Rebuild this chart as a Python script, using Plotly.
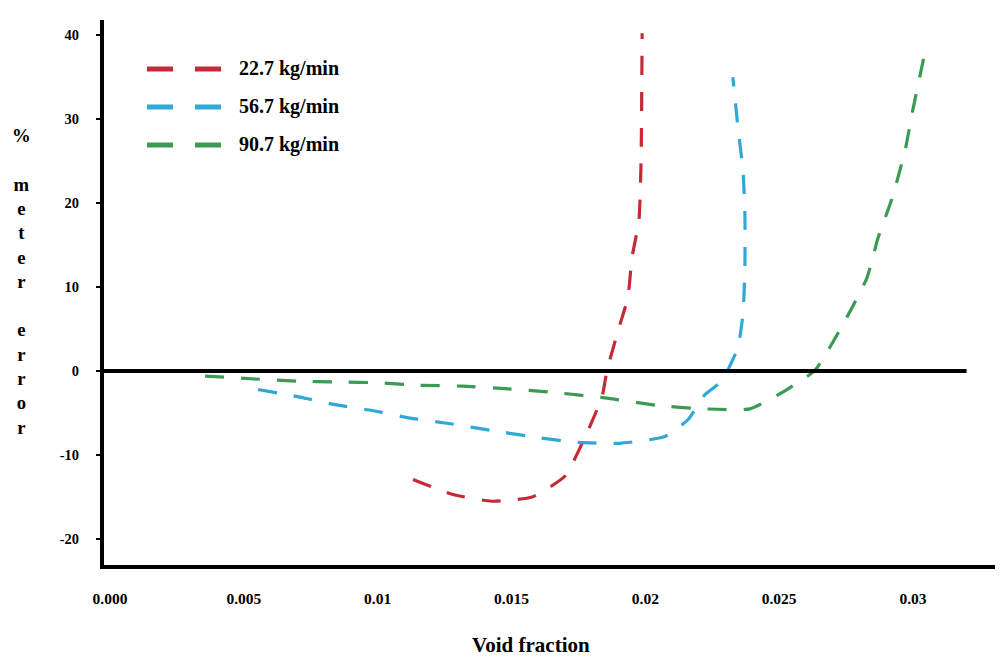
import plotly.graph_objects as go

# ---------------- data ----------------
series_names = ["22.7 kg/min", "56.7 kg/min", "90.7 kg/min"]

x_red = [0.01132, 0.01281, 0.01427, 0.01577, 0.01700, 0.01767, 0.01838, 0.01857,
         0.01902, 0.01935, 0.01950, 0.01976, 0.01984, 0.01988]
y_red = [-12.9, -14.7, -15.5, -15.0, -12.5, -8.4, -3.1, 0.1,
         5.2, 8.8, 13.5, 17.9, 25.0, 40.2]

x_blue = [0.00553, 0.00710, 0.00841, 0.00979, 0.01121, 0.01278, 0.01431, 0.01595,
          0.01749, 0.01905, 0.02073, 0.02159, 0.02223, 0.02290, 0.02305, 0.02346,
          0.02365, 0.02372, 0.02372, 0.02365, 0.02346, 0.02327]
y_blue = [-2.2, -3.1, -4.0, -4.7, -5.6, -6.3, -7.1, -7.9,
          -8.5, -8.6, -7.8, -5.8, -2.8, -1.1, -0.1, 2.8,
          6.9, 12.4, 18.7, 23.8, 29.0, 35.0]

x_green = [0.00355, 0.00542, 0.00699, 0.00848, 0.01005, 0.01158, 0.01319, 0.01476,
           0.01644, 0.01849, 0.02047, 0.02215, 0.02391, 0.02529, 0.02634, 0.02746,
           0.02828, 0.02869, 0.02922, 0.02970, 0.03000, 0.03045]
y_green = [-0.6, -0.95, -1.2, -1.3, -1.4, -1.7, -1.8, -2.1,
           -2.5, -3.2, -4.1, -4.5, -4.5, -2.2, 0.1, 6.0,
           11.1, 15.8, 20.6, 26.2, 31.2, 38.0]

x_tickvals = [0, 0.005, 0.01, 0.015, 0.02, 0.025, 0.03]
x_ticktext = ["0.000", "0.005", "0.01", "0.015", "0.02", "0.025", "0.03"]
y_tickvals = [-20, -10, 0, 10, 20, 30, 40]
y_ticktext = ["-20", "-10", "0", "10", "20", "30", "40"]

zero_line_x = [-0.000224, 0.0320]
zero_line_y = [0, 0]

x_title = "Void fraction"
y_title_letters = ["%", "", "m", "e", "t", "e", "r", "", "e", "r", "r", "o", "r"]

# ---------------- styling ----------------
colors = ["#C42A38", "#2FA8D8", "#3B9B52"]
FONT = "Liberation Serif, Times New Roman, serif"

# the page body has an 8px default margin; plot area wanted at page px
OFF = 8
PL, PT, PR, PB = 104, 20, 1003, 565
W, H = 1003 - OFF, 657 - OFF
ML, MT = PL - OFF, PT - OFF
MR = W - (PR - OFF)
MB = H - (PB - OFF)
PW, PH = PR - PL, PB - PT


def px_x(p):
    return (p - PL) / PW


def px_y(p):
    return (PB - p) / PH


fig = go.Figure()
for xs, ys, c, n in zip([x_red, x_blue, x_green], [y_red, y_blue, y_green], colors, series_names):
    fig.add_trace(go.Scatter(x=xs, y=ys, mode="lines", name=n, showlegend=False,
                             line=dict(color=c, width=3.2, dash="19px,17px",
                                       shape="spline", smoothing=0.5)))

# zero reference line
fig.add_trace(go.Scatter(x=zero_line_x, y=zero_line_y, mode="lines", showlegend=False,
                         hoverinfo="skip", line=dict(color="black", width=4)))

# manual legend (long double-dash samples as in the reference)
legend_rows = [69, 107, 145]
for n, c, ry in zip(series_names, colors, legend_rows):
    fig.add_shape(type="line", xref="paper", yref="paper",
                  x0=px_x(147), x1=px_x(223), y0=px_y(ry), y1=px_y(ry),
                  line=dict(color=c, width=5, dash="26px,22px"))
    fig.add_annotation(xref="paper", yref="paper", x=px_x(237), y=px_y(ry),
                       xanchor="left", yanchor="middle", showarrow=False, text=n,
                       font=dict(family=FONT, size=20, color="black", weight="bold"))

# axis titles
fig.add_annotation(xref="paper", yref="paper", x=px_x(531), y=px_y(645),
                   xanchor="center", yanchor="middle", showarrow=False, text=x_title,
                   font=dict(family=FONT, size=21, color="black", weight="bold"))
fig.add_annotation(xref="paper", yref="paper", x=px_x(21), y=px_y(281),
                   xanchor="center", yanchor="middle", showarrow=False, align="center",
                   text="<br>".join(l if l else " " for l in y_title_letters),
                   font=dict(family=FONT, size=18.7, color="black", weight="bold"))

fig.update_layout(
    width=W, height=H,
    margin=dict(l=ML, r=MR, t=MT, b=MB),
    paper_bgcolor="white", plot_bgcolor="white",
    xaxis=dict(range=[-0.000224, 0.033362], showgrid=False, zeroline=False,
               showline=True, linecolor="black", linewidth=4,
               tickvals=x_tickvals, ticktext=x_ticktext, ticks="",
               ticklabelstandoff=16,
               tickfont=dict(family=FONT, size=15.5, color="black", weight="bold")),
    yaxis=dict(range=[-23.09, 41.79], showgrid=False, zeroline=False,
               showline=True, linecolor="black", linewidth=4,
               tickvals=y_tickvals, ticktext=y_ticktext, ticks="outside",
               ticklen=4, tickwidth=2, tickcolor="black",
               ticklabelstandoff=14,
               tickfont=dict(family=FONT, size=14.5, color="black", weight="bold")),
)

fig.write_html("out.html")
